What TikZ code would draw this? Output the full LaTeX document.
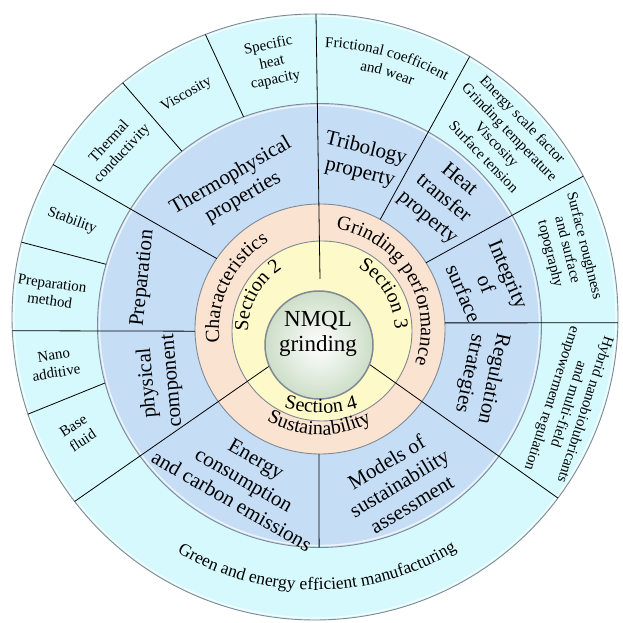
\documentclass[tikz,border=0pt]{standalone}
\usepackage{fontspec}
\setmainfont{Liberation Serif}
\usetikzlibrary{calc,decorations.text}
\definecolor{outerring}{RGB}{214,249,253}
\definecolor{midring}{RGB}{197,222,246}
\definecolor{peachring}{RGB}{251,227,210}
\definecolor{yellowring}{RGB}{253,249,200}
\definecolor{ballrim}{RGB}{205,222,200}
\definecolor{rimgray}{RGB}{128,138,148}

\begin{document}
\begin{tikzpicture}[x=1pt, y=1pt,
    ring/.style={fill=#1, draw=rimgray, line width=0.9pt},
    bevel/.style={draw=white, line width=1.4pt, opacity=0.7},
    divider/.style={line width=0.8pt},
    bigtext/.style={font=\fontsize{21}{24.5}\selectfont, align=center},
    smalltext/.style={font=\fontsize{15}{17.5}\selectfont, align=center},
    arctext/.style={decorate, decoration={text along path, text align=center, text={#1}}}
    ]

\useasboundingbox (0,0) rectangle (622,623);

\coordinate (Oc) at (315,306);
\coordinate (Bc) at (319.5,297.5);
\coordinate (Pc) at (320,294);
\coordinate (Yc) at (322,292);
\coordinate (Nc) at (319,278);

\draw[ring=outerring] (Oc) circle (303);
\draw[bevel] (Oc) circle (301);
\draw[ring=midring] (Bc) circle (222);
\draw[bevel] (Bc) circle (220);
\draw[ring=peachring] (Pc) circle (125);
\draw[ring=yellowring] (Yc) circle (90);

\coordinate (topA) at (316,609);
\coordinate (topB) at (320,344);
\coordinate (llA) at ($(Nc)+(203:54)$);
\coordinate (llB) at ($(Oc)+(217.5:303)$);
\coordinate (lrA) at ($(Nc)+(339:54)$);
\coordinate (lrB) at ($(Oc)+(323.3:303)$);
\coordinate (lhA) at ($(Pc)+(181:125)$);
\coordinate (lhB) at ($(Oc)+(182.6:303)$);
\coordinate (rhA) at ($(Pc)+(2.8:125)$);
\coordinate (rhB) at ($(Oc)+(-1.1:303)$);
\coordinate (triA) at ($(Pc)+(61.2:125)$);
\coordinate (triB) at ($(Oc)+(59.3:303)$);
\coordinate (heatA) at ($(Pc)+(32:125)$);
\coordinate (heatB) at ($(Oc)+(27.7:303)$);
\coordinate (prepA) at ($(Pc)+(145.7:125)$);
\coordinate (prepB) at ($(Oc)+(149.8:303)$);
\coordinate (stabA) at ($(Bc)+(164:222)$);
\coordinate (stabB) at ($(Oc)+(165.7:303)$);
\coordinate (condA) at ($(Bc)+(128.3:222)$);
\coordinate (condB) at ($(Oc)+(129.4:303)$);
\coordinate (viscA) at ($(Bc)+(110:222)$);
\coordinate (viscB) at ($(Oc)+(111.2:303)$);
\coordinate (nanoA) at ($(Bc)+(195:222)$);
\coordinate (nanoB) at ($(Oc)+(198.7:303)$);
\coordinate (botA) at ($(Pc)+(269.5:125)$);
\coordinate (botB) at ($(Bc)+(269.9:222)$);

\draw[divider] (topA) -- (topB);
\draw[divider] (llA) -- (llB);
\draw[divider] (lrA) -- (lrB);
\draw[divider] (lhA) -- (lhB);
\draw[divider] (rhA) -- (rhB);
\draw[divider] (triA) -- (triB);
\draw[divider] (heatA) -- (heatB);
\draw[divider] (prepA) -- (prepB);
\draw[divider] (stabA) -- (stabB);
\draw[divider] (condA) -- (condB);
\draw[divider] (viscA) -- (viscB);
\draw[divider] (nanoA) -- (nanoB);
\draw[divider] (botA) -- (botB);

\shade[inner color=white, outer color=ballrim] (Nc) circle (54);
\draw[rimgray, line width=1.5pt] (Nc) circle (54);
\node[font=\fontsize{23}{25}\selectfont, align=center] (nmql) at (318,289) {NMQL\\grinding};

\path[arctext={|\fontsize{20}{22}\selectfont|Section 2}] ($(Yc)+(201.5:74)$) arc[start angle=201.5, end angle=101.5, radius=74];
\path[arctext={|\fontsize{20}{22}\selectfont|Section 3}] ($(Yc)+(81:73)$) arc[start angle=81, end angle=-19, radius=73];
\path[arctext={|\fontsize{20}{22}\selectfont|Section 4}] (321,340) ++(240:130) arc[start angle=240, end angle=300, radius=130];

\path[arctext={|\fontsize{20}{22}\selectfont|Characteristics}] ($(Pc)+(204:101)$) arc[start angle=204, end angle=104, radius=101];
\path[arctext={|\fontsize{20}{22}\selectfont|Grinding performance}] ($(Pc)+(95:101)$) arc[start angle=95, end angle=-34, radius=101];
\path[arctext={|\fontsize{20}{22}\selectfont|Sustainability}] ($(Pc)+(219.5:106)$) arc[start angle=219.5, end angle=319.5, radius=106];

\node[bigtext, rotate=30] (thermo) at (237,436) {Thermophysical\\properties};
\node[bigtext, rotate=-14] (tribo) at (363,462) {Tribology\\property};
\node[bigtext, rotate=-40] (heat) at (443,424) {Heat\\transfer\\property};
\node[bigtext, rotate=-67] (integ) at (486,339) {Integrity\\of\\surface};
\node[bigtext, rotate=-102] (regul) at (481,247) {Regulation\\strategies};
\node[bigtext, rotate=84] (prep) at (143,345) {Preparation};
\node[bigtext, rotate=95] (phys) at (160,241) {physical\\component};
\node[bigtext, rotate=-30] (energy) at (244,143) {Energy\\consumption\\and carbon emissions};
\node[bigtext, rotate=31] (models) at (399,140) {Models of\\sustainability\\assessment};

\node[smalltext, rotate=12] (spec) at (272,560) {Specific\\heat\\capacity};
\node[smalltext, rotate=30] (visc) at (186.5,528) {Viscosity};
\node[smalltext, rotate=47] (therm) at (116,475) {Thermal\\conductivity};
\node[smalltext, rotate=-20] (stab) at (72,402) {Stability};
\node[smalltext, rotate=-8] (prepm) at (51,331) {Preparation\\method};
\node[smalltext, rotate=9] (nano) at (55,259) {Nano\\additive};
\node[smalltext, rotate=33] (base) at (78,190) {Base\\fluid};
\node[smalltext, font=\fontsize{15}{18}\selectfont, rotate=-46] (scale) at (503.5,485) {Energy scale factor\\Grinding temperature\\Viscosity\\Surface tension};
\node[smalltext, rotate=-76] (surf) at (567,373) {Surface roughness\\and surface\\topography};
\node[smalltext, rotate=-108] (hybrid) at (568,219) {Hybrid nanobiolubricants\\and multi-field\\empowerment regulation};

\path[arctext={|\fontsize{15}{17}\selectfont|Frictional coefficient}] ($(Oc)+(110:270)$) arc[start angle=110, end angle=39, radius=270];
\path[arctext={|\fontsize{15}{17}\selectfont|and wear}] ($(Oc)+(100:251)$) arc[start angle=100, end angle=47, radius=251];
\path[arctext={|\fontsize{17.5}{20}\selectfont|Green and energy efficient manufacturing}] ($(Oc)+(225:273)$) arc[start angle=225, end angle=316, radius=273];
\end{tikzpicture}
\end{document}
